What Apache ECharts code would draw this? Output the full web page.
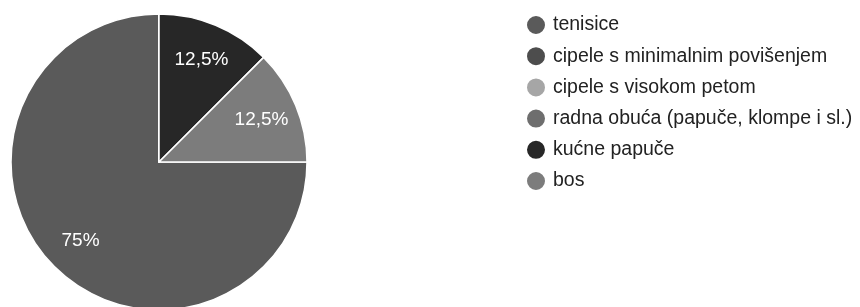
<!DOCTYPE html>
<html>
<head>
<meta charset="utf-8">
<style>
  html, body { margin: 0; padding: 0; background: #fff; }
  #chart { width: 860px; height: 307px; }
</style>
<script src="https://cdn.jsdelivr.net/npm/echarts@6/dist/echarts.min.js"></script>
</head>
<body>
<div id="chart"></div>
<script>
// kategorije i udjeli (%)
const categories = [
  'tenisice',
  'cipele s minimalnim povišenjem',
  'cipele s visokom petom',
  'radna obuća (papuče, klompe i sl.)',
  'kućne papuče',
  'bos'
]
const values = [75, 0, 0, 0, 12.5, 12.5]
const colors = ['#5a5a5a', '#4d4d4d', '#a6a6a6', '#6e6e6e', '#272727', '#7c7c7c']

const pieData = categories.map((name, i) => ({
  name: name,
  value: values[i],
  itemStyle: { color: colors[i] }
}))

const chart = echarts.init(document.getElementById('chart'))
chart.setOption({
  animation: false,
  legend: {
    orient: 'vertical',
    left: 520,
    top: 9,
    icon: 'circle',
    itemWidth: 20,
    itemHeight: 20,
    itemGap: 9.2,
    data: categories,
    textStyle: {
      color: '#222',
      fontSize: 19.5,
      lineHeight: 20,
      fontFamily: 'Liberation Sans, Arial, sans-serif',
      padding: [0, 0, 0, 2]
    }
  },
  series: [
    {
      // kolač
      type: 'pie',
      center: [159, 162],
      radius: [0, 148],
      startAngle: 0,
      clockwise: true,
      data: pieData,
      label: { show: false },
      labelLine: { show: false },
      itemStyle: { borderColor: '#fff', borderWidth: 1.5 },
      emphasis: { disabled: true }
    },
    {
      // samo natpisi postotaka, malo dalje od središta
      type: 'pie',
      center: [159, 162],
      radius: [68, 148],
      startAngle: 0,
      clockwise: true,
      silent: true,
      data: pieData.map(d => ({ name: d.name, value: d.value, itemStyle: { color: 'rgba(0,0,0,0)' } })),
      itemStyle: { borderWidth: 0 },
      labelLine: { show: false },
      label: {
        show: true,
        position: 'inside',
        color: '#fff',
        fontSize: 19,
        fontFamily: 'Liberation Sans, Arial, sans-serif',
        formatter: p => p.value > 0 ? String(p.percent).replace('.', ',') + '%' : ''
      },
      emphasis: { disabled: true }
    }
  ]
})
</script>
</body>
</html>
